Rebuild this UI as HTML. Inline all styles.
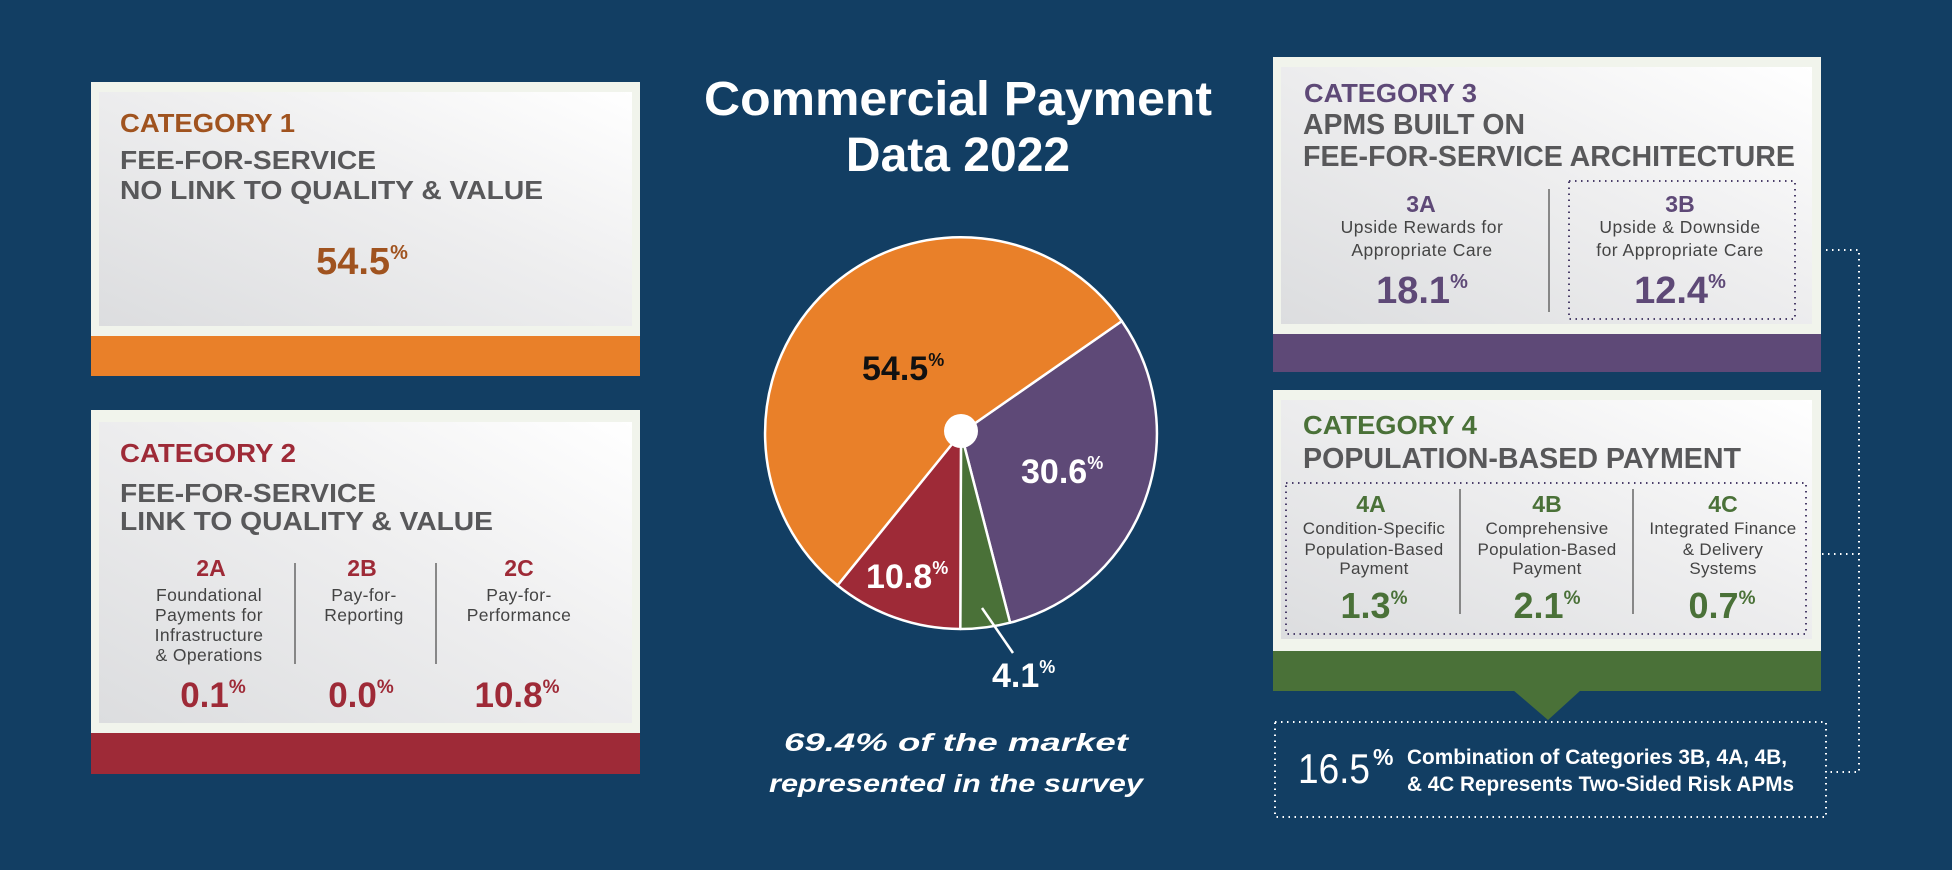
<!DOCTYPE html>
<html><head><meta charset="utf-8"><style>
html,body{margin:0;padding:0;background:#123e63;}
svg{display:block;font-family:"Liberation Sans",Arial,sans-serif;}
</style></head><body>
<svg width="1952" height="870" viewBox="0 0 1952 870" xmlns="http://www.w3.org/2000/svg">
<defs>
<linearGradient id="g" x1="0" y1="1" x2="1" y2="0">
<stop offset="0" stop-color="#dcdddf"/><stop offset="0.55" stop-color="#eeeeef"/><stop offset="1" stop-color="#ffffff"/>
</linearGradient>
</defs>
<rect width="1952" height="870" fill="#123e63"/>

<!-- Card 1 -->
<rect x="91" y="82" width="549" height="294" fill="#f1f4ec"/>
<rect x="99" y="92" width="533" height="234" fill="url(#g)"/>
<rect x="91" y="336" width="549" height="40" fill="#e98029"/>
<g font-weight="bold">
<text x="120" y="132" font-size="26" fill="#a0531f" textLength="175" lengthAdjust="spacingAndGlyphs">CATEGORY 1</text>
<text x="120" y="169" font-size="26" fill="#58585a" textLength="256" lengthAdjust="spacingAndGlyphs">FEE-FOR-SERVICE</text>
<text x="120" y="199" font-size="26" fill="#58585a" textLength="423" lengthAdjust="spacingAndGlyphs">NO LINK TO QUALITY &amp; VALUE</text>
<text x="362" y="274" font-size="38" fill="#a0531f" text-anchor="middle">54.5<tspan font-size="20" dy="-15">%</tspan></text>
</g>

<!-- Card 2 -->
<rect x="91" y="410" width="549" height="364" fill="#f1f4ec"/>
<rect x="99" y="422" width="533" height="301" fill="url(#g)"/>
<rect x="91" y="733" width="549" height="41" fill="#9e2a37"/>
<g font-weight="bold">
<text x="120" y="462" font-size="26" fill="#9e2a37" textLength="176" lengthAdjust="spacingAndGlyphs">CATEGORY 2</text>
<text x="120" y="502" font-size="26" fill="#58585a" textLength="256" lengthAdjust="spacingAndGlyphs">FEE-FOR-SERVICE</text>
<text x="120" y="530" font-size="26" fill="#58585a" textLength="373" lengthAdjust="spacingAndGlyphs">LINK TO QUALITY &amp; VALUE</text>
<g font-size="23" fill="#9e2a37" text-anchor="middle">
<text x="211" y="576">2A</text><text x="362" y="576">2B</text><text x="519" y="576">2C</text>
</g>
<g font-size="35" fill="#9e2a37" text-anchor="middle">
<text x="213" y="707">0.1<tspan font-size="19" dy="-14">%</tspan></text>
<text x="361" y="707">0.0<tspan font-size="19" dy="-14">%</tspan></text>
<text x="517" y="707">10.8<tspan font-size="19" dy="-14">%</tspan></text>
</g>
</g>
<g font-size="17.5" fill="#444" text-anchor="middle" letter-spacing="0.4">
<text x="209" y="601">Foundational</text><text x="209" y="621">Payments for</text><text x="209" y="641">Infrastructure</text><text x="209" y="661">&amp; Operations</text>
<text x="364" y="601">Pay-for-</text><text x="364" y="621">Reporting</text>
<text x="519" y="601">Pay-for-</text><text x="519" y="621">Performance</text>
</g>
<line x1="295" y1="563" x2="295" y2="664" stroke="#666" stroke-width="1.5"/>
<line x1="436" y1="563" x2="436" y2="664" stroke="#666" stroke-width="1.5"/>

<!-- Title -->
<g font-weight="bold" fill="#fff" text-anchor="middle">
<text x="958" y="115" font-size="48" textLength="508" lengthAdjust="spacingAndGlyphs">Commercial Payment</text>
<text x="958" y="171" font-size="48">Data 2022</text>
</g>

<!-- Pie -->
<g stroke="#fff" stroke-width="2.5" stroke-linejoin="round">
<path d="M961,433 L1121.8,321.1 A196,196 0 0 1 1010.1,622.7 Z" fill="#5e4977"/>
<path d="M961,433 L1010.1,622.7 A196,196 0 0 1 960.3,629 Z" fill="#4a7138"/>
<path d="M961,433 L960.3,629 A196,196 0 0 1 837.5,585.4 Z" fill="#9e2a37"/>
<path d="M961,433 L837.5,585.4 A196,196 0 1 1 1121.8,321.1 Z" fill="#e98029"/>
</g>
<circle cx="961" cy="431" r="17" fill="#fff"/>
<line x1="982" y1="608" x2="1013" y2="653" stroke="#fff" stroke-width="2.5"/>
<g font-weight="bold" font-size="34">
<text x="862" y="380" fill="#111">54.5<tspan font-size="18" dy="-14">%</tspan></text>
<text x="1021" y="483" fill="#fff">30.6<tspan font-size="18" dy="-14">%</tspan></text>
<text x="866" y="588" fill="#fff">10.8<tspan font-size="18" dy="-14">%</tspan></text>
<text x="992" y="687" fill="#fff">4.1<tspan font-size="18" dy="-14">%</tspan></text>
</g>
<g font-weight="bold" font-style="italic" font-size="25" fill="#fff" text-anchor="middle">
<text x="956" y="751" textLength="344" lengthAdjust="spacingAndGlyphs">69.4% of the market</text>
<text x="956" y="792" textLength="374" lengthAdjust="spacingAndGlyphs">represented in the survey</text>
</g>

<!-- Card 3 -->
<rect x="1273" y="57" width="548" height="315" fill="#f1f4ec"/>
<rect x="1281" y="67" width="531" height="257" fill="url(#g)"/>
<rect x="1273" y="334" width="548" height="38" fill="#5e4977"/>
<g font-weight="bold">
<text x="1304" y="102" font-size="26" fill="#5e4977" textLength="173" lengthAdjust="spacingAndGlyphs">CATEGORY 3</text>
<text x="1303" y="134" font-size="29" fill="#58585a" textLength="222" lengthAdjust="spacingAndGlyphs">APMS BUILT ON</text>
<text x="1303" y="166" font-size="29" fill="#58585a" textLength="492" lengthAdjust="spacingAndGlyphs">FEE-FOR-SERVICE ARCHITECTURE</text>
<text x="1421" y="212" font-size="23" fill="#5e4977" text-anchor="middle">3A</text>
<text x="1680" y="212" font-size="23" fill="#5e4977" text-anchor="middle">3B</text>
<text x="1422" y="303" font-size="38" fill="#5e4977" text-anchor="middle">18.1<tspan font-size="20" dy="-15">%</tspan></text>
<text x="1680" y="303" font-size="38" fill="#5e4977" text-anchor="middle">12.4<tspan font-size="20" dy="-15">%</tspan></text>
</g>
<g font-size="17.5" fill="#444" text-anchor="middle" letter-spacing="0.5">
<text x="1422" y="233">Upside Rewards for</text><text x="1422" y="256">Appropriate Care</text>
<text x="1680" y="233">Upside &amp; Downside</text><text x="1680" y="256">for Appropriate Care</text>
</g>
<line x1="1549" y1="189" x2="1549" y2="312" stroke="#666" stroke-width="1.5"/>
<rect x="1569" y="181" width="226" height="138" fill="none" stroke="#4b3f6a" stroke-width="2" stroke-dasharray="1.5 4.5"/>

<!-- Card 4 -->
<rect x="1273" y="390" width="548" height="301" fill="#f1f4ec"/>
<rect x="1281" y="400" width="531" height="239" fill="url(#g)"/>
<rect x="1273" y="651" width="548" height="40" fill="#4a7138"/>
<polygon points="1513,690 1581,690 1548,720" fill="#4a7138"/>
<g font-weight="bold">
<text x="1303" y="434" font-size="26" fill="#4a7138" textLength="174" lengthAdjust="spacingAndGlyphs">CATEGORY 4</text>
<text x="1303" y="468" font-size="29" fill="#58585a" textLength="438" lengthAdjust="spacingAndGlyphs">POPULATION-BASED PAYMENT</text>
<g font-size="23" fill="#4a7138" text-anchor="middle">
<text x="1371" y="512">4A</text><text x="1547" y="512">4B</text><text x="1723" y="512">4C</text>
</g>
<g font-size="36" fill="#4a7138" text-anchor="middle">
<text x="1374" y="618">1.3<tspan font-size="19" dy="-14">%</tspan></text>
<text x="1547" y="618">2.1<tspan font-size="19" dy="-14">%</tspan></text>
<text x="1722" y="618">0.7<tspan font-size="19" dy="-14">%</tspan></text>
</g>
</g>
<g font-size="17" fill="#444" text-anchor="middle" letter-spacing="0.3">
<text x="1374" y="534">Condition-Specific</text><text x="1374" y="555">Population-Based</text><text x="1374" y="574">Payment</text>
<text x="1547" y="534">Comprehensive</text><text x="1547" y="555">Population-Based</text><text x="1547" y="574">Payment</text>
<text x="1723" y="534">Integrated Finance</text><text x="1723" y="555">&amp; Delivery</text><text x="1723" y="574">Systems</text>
</g>
<line x1="1460" y1="489" x2="1460" y2="614" stroke="#666" stroke-width="1.5"/>
<line x1="1633" y1="489" x2="1633" y2="614" stroke="#666" stroke-width="1.5"/>
<rect x="1286" y="483" width="520" height="151" fill="none" stroke="#4b3f6a" stroke-width="2" stroke-dasharray="1.5 4.5"/>

<!-- Bottom box & connectors -->
<g fill="none" stroke="#fff" stroke-width="2" stroke-dasharray="1.5 4.5">
<rect x="1275" y="722" width="551" height="95"/>
<polyline points="1826,250 1859,250 1859,772 1826,772"/>
<line x1="1822" y1="554" x2="1859" y2="554"/>
</g>
<text x="1298" y="783" font-size="42" fill="#fff" textLength="72" lengthAdjust="spacingAndGlyphs">16.5</text>
<text x="1373" y="765" font-size="23" fill="#fff" font-weight="bold">%</text>
<g font-weight="bold" font-size="21" fill="#fff">
<text x="1407" y="764" textLength="380" lengthAdjust="spacingAndGlyphs">Combination of Categories 3B, 4A, 4B,</text>
<text x="1407" y="791" textLength="387" lengthAdjust="spacingAndGlyphs">&amp; 4C Represents Two-Sided Risk APMs</text>
</g>
</svg>
</body></html>
